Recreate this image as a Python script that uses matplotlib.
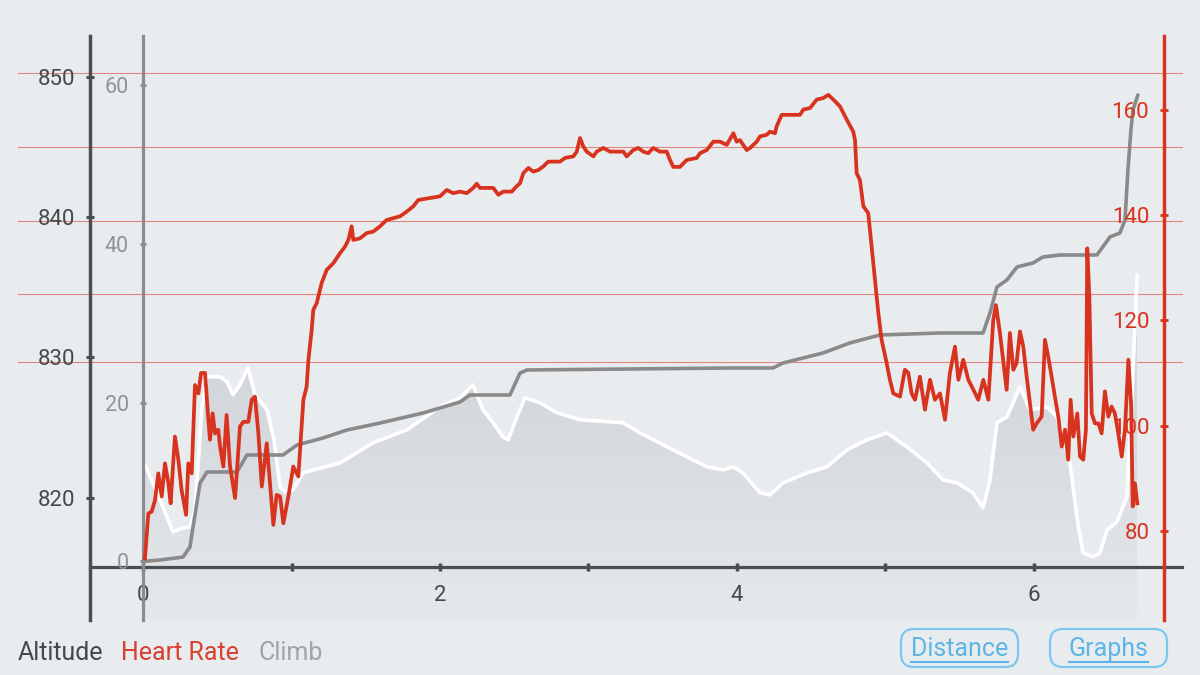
import numpy as np
import matplotlib
matplotlib.use("Agg")
import matplotlib.pyplot as plt
import matplotlib.transforms as mtransforms
from matplotlib.colors import LinearSegmentedColormap
from matplotlib.patches import FancyBboxPatch
from matplotlib.lines import Line2D

plt.rcParams['font.family'] = ['Roboto', 'DejaVu Sans']

# ---- data ----
alt_dist = [0.013, 0.114, 0.202, 0.269, 0.316, 0.350, 0.397, 0.431, 0.519, 0.566,
            0.606, 0.653, 0.707, 0.754, 0.835, 0.882, 0.923, 0.956, 1.010, 1.077,
            1.327, 1.549, 1.778, 2.000, 2.135, 2.222, 2.290, 2.357, 2.424, 2.458,
            2.519, 2.572, 2.673, 2.788, 2.943, 3.232, 3.347, 3.569, 3.798, 3.906,
            3.973, 4.040, 4.155, 4.222, 4.310, 4.471, 4.606, 4.741, 4.875, 5.010,
            5.145, 5.279, 5.387, 5.481, 5.589, 5.657, 5.704, 5.751, 5.818, 5.906,
            5.973, 6.088, 6.155, 6.242, 6.290, 6.330, 6.397, 6.444, 6.492, 6.559,
            6.626, 6.660, 6.694]
alt_m = [822.35, 819.86, 817.58, 817.86, 817.93, 819.14, 826.49, 828.63, 828.63, 828.27,
         827.34, 828.05, 829.26, 827.34, 826.28, 824.13, 820.78, 820.43, 820.57, 821.78,
         822.49, 823.92, 824.85, 826.49, 827.13, 828.05, 826.27, 825.35, 824.35, 824.13,
         825.77, 827.13, 826.77, 826.06, 825.56, 825.35, 824.63, 823.42, 822.21, 822.00,
         822.21, 821.78, 820.36, 820.21, 821.07, 821.78, 822.21, 823.42, 824.13, 824.63,
         823.63, 822.49, 821.28, 821.07, 820.36, 819.29, 821.28, 825.35, 825.77, 827.91,
         826.27, 826.49, 825.77, 822.49, 818.57, 816.08, 815.79, 816.08, 817.72, 818.29,
         820.07, 827.20, 835.89]

climb_dist = [0.000, 0.114, 0.269, 0.316, 0.337, 0.384, 0.431, 0.633, 0.700, 0.943,
              1.037, 1.212, 1.374, 1.596, 1.886, 2.135, 2.202, 2.471, 2.539, 2.586,
              3.953, 4.242, 4.310, 4.579, 4.761, 4.963, 5.367, 5.657, 5.704, 5.751,
              5.818, 5.886, 5.993, 6.061, 6.175, 6.424, 6.512, 6.579, 6.613, 6.633,
              6.653, 6.667, 6.700]
climb_m = [0.0, 0.18, 0.55, 1.81, 4.34, 9.88, 11.27, 11.27, 13.41, 13.41,
           14.67, 15.55, 16.56, 17.44, 18.70, 20.09, 20.97, 20.97, 23.74, 24.12,
           24.37, 24.37, 25.0, 26.26, 27.53, 28.53, 28.78, 28.78, 31.30, 34.58,
           35.46, 37.10, 37.60, 38.36, 38.61, 38.61, 40.88, 41.38, 43.02, 49.32,
           54.36, 56.88, 58.77]

hr_dist = [0.013, 0.036, 0.058, 0.081, 0.103, 0.126, 0.148, 0.171, 0.186, 0.215,
           0.238, 0.260, 0.290, 0.305, 0.328, 0.350, 0.373, 0.391, 0.418, 0.440,
           0.451, 0.469, 0.485, 0.507, 0.519, 0.541, 0.563, 0.586, 0.620, 0.653,
           0.676, 0.709, 0.732, 0.754, 0.777, 0.800, 0.833, 0.855, 0.878, 0.900,
           0.923, 0.945, 0.979, 1.012, 1.046, 1.080, 1.102, 1.114, 1.136, 1.147,
           1.170, 1.203, 1.237, 1.282, 1.327, 1.360, 1.383, 1.405, 1.416, 1.461,
           1.506, 1.551, 1.596, 1.641, 1.731, 1.776, 1.820, 1.854,
           2.000, 2.045, 2.090, 2.135, 2.180, 2.224, 2.247, 2.269, 2.359, 2.393,
           2.426, 2.483, 2.516, 2.539, 2.561, 2.595, 2.628, 2.662, 2.696, 2.729,
           2.808, 2.842, 2.898, 2.921, 2.943, 2.965, 2.988, 3.033, 3.055, 3.100,
           3.145, 3.235, 3.257, 3.302, 3.335, 3.369, 3.403, 3.436, 3.481, 3.527,
           3.549, 3.571, 3.616, 3.661, 3.729, 3.751, 3.796, 3.841, 3.886, 3.931,
           3.976, 3.998,
           4.020, 4.066, 4.088, 4.133, 4.155, 4.200, 4.222, 4.256, 4.267, 4.301,
           4.424, 4.447, 4.492, 4.537, 4.581, 4.615, 4.649, 4.694, 4.739, 4.783,
           4.795, 4.806, 4.828, 4.851, 4.884, 4.907, 4.929, 4.952, 4.974, 5.008,
           5.030, 5.053, 5.098, 5.131, 5.154, 5.176, 5.199, 5.232, 5.266, 5.300,
           5.333, 5.367, 5.401, 5.434, 5.468, 5.491, 5.524, 5.558, 5.592, 5.625,
           5.659, 5.693, 5.726, 5.744, 5.771,
           5.816, 5.838, 5.861, 5.883, 5.906, 5.928, 5.951, 5.995, 6.018, 6.052,
           6.074, 6.096, 6.119, 6.141, 6.164, 6.187, 6.209, 6.231, 6.247, 6.265,
           6.292, 6.310, 6.332, 6.350, 6.359, 6.373, 6.389, 6.411, 6.434, 6.456,
           6.478, 6.501, 6.523, 6.545, 6.568, 6.591, 6.613, 6.636, 6.654, 6.665,
           6.680, 6.696]
hr_bpm = [74.7, 83.3, 83.6, 85.8, 90.9, 86.5, 92.8, 89.0, 85.2, 97.9,
          93.5, 87.7, 83.0, 92.8, 90.9, 107.7, 106.1, 110.0, 110.0, 101.1,
          97.3, 102.3, 98.5, 99.2, 96.0, 92.2, 102.0, 92.2, 86.2, 99.8,
          100.7, 100.7, 104.9, 105.5, 98.5, 88.4, 96.6, 89.0, 81.1, 86.8,
          86.5, 81.4, 86.5, 92.2, 90.3, 104.9, 107.4, 112.5, 118.2, 122.0,
          123.3, 127.1, 129.6, 130.9, 132.8, 134.0, 135.3, 137.9, 135.3, 135.6,
          136.6, 136.9, 137.9, 139.1, 139.8, 140.7, 141.7, 142.9,
          143.6, 144.8, 144.2, 144.5, 144.2, 145.2, 146.0, 145.2, 145.2, 143.9,
          144.5, 144.5, 145.5, 146.1, 148.0, 149.0, 148.3, 148.6, 149.3, 150.2,
          150.2, 150.9, 151.2, 152.1, 154.7, 153.1, 152.1, 151.2, 152.1, 152.8,
          152.1, 152.1, 151.2, 152.4, 152.8, 152.1, 151.8, 152.8, 152.1, 152.1,
          150.5, 149.2, 149.2, 150.5, 150.9, 151.8, 152.4, 154.0, 154.0, 153.4,
          155.6, 154.0,
          154.3, 152.4, 152.8, 154.0, 155.0, 155.3, 155.9, 155.6, 156.9, 159.1,
          159.1, 160.1, 160.4, 162.0, 162.3, 162.9, 162.0, 160.7, 158.2, 155.9,
          154.3, 148.0, 146.7, 141.7, 140.4, 134.0, 127.7, 121.4, 116.3, 111.9,
          108.7, 106.1, 105.5, 110.6, 110.0, 106.1, 104.9, 109.3, 103.0, 108.7,
          104.9, 106.1, 101.1, 110.0, 115.0, 108.7, 112.5, 108.7, 106.8, 104.9,
          108.7, 104.9, 120.1, 122.9, 117.6,
          106.8, 117.6, 110.6, 111.9, 117.9, 115.0, 109.3, 99.2, 100.4, 101.7,
          116.3, 113.1, 109.3, 105.5, 101.7, 96.0, 99.2, 93.5, 104.9, 97.9,
          102.3, 94.1, 93.5, 99.2, 133.7, 124.5, 102.3, 100.4, 100.4, 98.5,
          106.5, 101.7, 103.6, 102.3, 98.5, 94.1, 99.2, 112.5, 104.2, 84.6,
          89.0, 85.2]

hr_zone_lines = [167, 153, 139, 125, 112]

alt_ticks = [820, 830, 840, 850]
climb_ticks = [0, 20, 40, 60]
hr_ticks = [80, 100, 120, 140, 160]
dist_ticks = [0, 1, 2, 3, 4, 5, 6]
dist_labels = ['0', '', '2', '', '4', '', '6']

legend_names = ['Altitude', 'Heart Rate', 'Climb']
button_names = ['Distance', 'Graphs']

# ---- colours ----
bg = '#e9ecef'
dark = '#4a4d52'
grey_axis = '#8c8c8c'
grey_text = '#8f9296'
red = '#d7331f'
blue = '#5cb5e6'

W, H = 1200, 675
fig = plt.figure(figsize=(12, 6.75), dpi=100, facecolor=bg)

ax = fig.add_axes([90 / W, 1 - 620 / H, 1092 / W, 584 / H])
ax.patch.set_visible(False)
x_lim = (-0.357, 6.997)
alt_lim = (811.3, 852.9)
alt_base = 815.08

# climb and heart rate get their own axes
ax_c = ax.twinx()
ax_h = ax.twinx()
ax_c.set_ylim(-7.38, 66.2)
ax_h.set_ylim(63.0, 174.1)

# thin red zone lines, in heart-rate units but drawn behind everything
zone_tr = mtransforms.blended_transform_factory(ax.transAxes, ax_h.transData)
for v in hr_zone_lines:
    ax.add_line(Line2D([(18 - 90) / 1092, 1.0], [v, v], transform=zone_tr,
                       color='#e2857d', lw=0.8, zorder=0.5, clip_on=False))

# altitude: gradient fill under a white line
fill = ax.fill_between(alt_dist, alt_m, alt_lim[0], color='none', lw=0)
grad = np.linspace(0, 1, 256).reshape(-1, 1)
cmap = LinearSegmentedColormap.from_list(
    'altfill', ['#d1d4d9', '#d4d7dc', '#dcdfe3', '#e6e9ec'])
im = ax.imshow(grad, extent=[alt_dist[0], alt_dist[-1], alt_lim[0], max(alt_m)],
               aspect='auto', cmap=cmap, origin='upper', zorder=1)
im.set_clip_path(fill.get_paths()[0], transform=ax.transData)
ax.plot(alt_dist, alt_m, color='white', lw=2.6, zorder=3, solid_capstyle='round')

ax_c.plot(climb_dist, climb_m, color='#8a8a8a', lw=2.6, solid_capstyle='round')
ax_h.plot(hr_dist, hr_bpm, color=red, lw=2.7, solid_joinstyle='round')

ax.set_xlim(*x_lim)
ax.set_ylim(*alt_lim)

# altitude axis
for s in ['top', 'right']:
    ax.spines[s].set_visible(False)
ax.spines['left'].set_color(dark)
ax.spines['left'].set_linewidth(2.5)
ax.spines['bottom'].set_position(('data', alt_base))
ax.spines['bottom'].set_color(dark)
ax.spines['bottom'].set_linewidth(2.3)
ax.set_yticks(alt_ticks)
ax.tick_params(axis='y', direction='inout', length=6, width=2.2, color=dark,
               labelcolor='#45484c', labelsize=16, pad=7.5)
ax.set_xticks(dist_ticks)
ax.set_xticklabels(dist_labels)
ax.tick_params(axis='x', direction='inout', length=6, width=2.5, color=dark,
               labelcolor='#45484c', labelsize=16, pad=10)

# climb axis
for s in ['top', 'right', 'bottom']:
    ax_c.spines[s].set_visible(False)
ax_c.spines['left'].set_visible(True)
ax_c.spines['left'].set_position(('data', 0.0))
ax_c.spines['left'].set_color(grey_axis)
ax_c.spines['left'].set_linewidth(2.3)
ax_c.yaxis.tick_left()
ax_c.set_yticks(climb_ticks)
ax_c.tick_params(axis='y', direction='inout', length=5, width=2, color=grey_axis,
                 labelcolor=grey_text, labelsize=15.5, pad=7.5)

# heart rate axis, labels sit left of the red line
for s in ['top', 'right', 'bottom']:
    ax_h.spines[s].set_visible(False)
ax_h.spines['left'].set_visible(True)
ax_h.spines['left'].set_position(('data', 6.875))
ax_h.spines['left'].set_color(red)
ax_h.spines['left'].set_linewidth(2.5)
ax_h.yaxis.tick_left()
ax_h.set_yticks(hr_ticks)
ax_h.tick_params(axis='y', direction='inout', length=6, width=2, color=red,
                 labelcolor=red, labelsize=16, pad=7.5)

# legend-like labels at the bottom
legend_x = [18, 121, 259]
legend_col = ['#45484d', '#d8402f', '#a2a5a8']
for name, px, col in zip(legend_names, legend_x, legend_col):
    fig.text(px / W, 1 - 653 / H, name, color=col, fontsize=18, va='center', ha='left')

# the two buttons
button_x = [(901, 1018), (1050, 1167)]
for name, (x0, x1) in zip(button_names, button_x):
    box = FancyBboxPatch((x0, H - 667), x1 - x0, 38,
                         boxstyle='round,pad=0,rounding_size=13',
                         transform=mtransforms.IdentityTransform(),
                         facecolor='none', edgecolor='#7cc6ef', lw=1.6)
    fig.add_artist(box)
    t = fig.text((x0 + x1) / 2 / W, 1 - 649 / H, name, color=blue, fontsize=18,
                 ha='center', va='center')
    fig.canvas.draw()
    bb = t.get_window_extent()
    fig.add_artist(Line2D([bb.x0, bb.x1], [H - 662, H - 662],
                          transform=mtransforms.IdentityTransform(),
                          color=blue, lw=1.5))

fig.savefig('out.png', dpi=100, facecolor=bg)
